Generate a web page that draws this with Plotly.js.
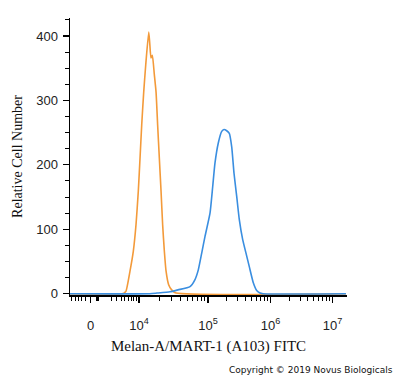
<!DOCTYPE html>
<html>
<head>
<meta charset="utf-8">
<script src="https://cdn.plot.ly/plotly-3.0.1.min.js"></script>
<style>html,body{margin:0;padding:0;background:#fff;}#chart{width:400px;height:378px;}</style>
</head>
<body>
<div id="chart"></div>
<script>
// Fluorescence channel (display scale 0-1024, biexponential) and counts
const isotypeChannel = [0, 192.2, 199.6, 207.0, 221.8, 234.1, 244.0, 252.5, 258.8, 265.1, 272.5, 279.9, 291.0, 294.6, 299.4, 304.4, 311.8, 318.1, 324.0, 330.3, 336.6, 342.5, 348.8, 355.1, 364.7, 375.8, 392.1, 1020];
const isotypeCount   = [0, 0, 1, 4, 35, 66, 107, 159, 210, 262, 313, 355, 406, 390, 366, 370, 340, 313, 262, 210, 159, 107, 66, 35, 14, 6, 1, 0];

const melanChannel = [0, 295.7, 321.6, 369.7, 399.3, 443.6, 462.1, 474.3, 486.9, 499.1, 517.6, 527.5, 536.0, 548.2, 560.8, 569.3, 579.3, 588.9, 597.8, 606.3, 616.3, 625.9, 638.4, 650.6, 662.8, 677.6, 690.2, 702.4, 713.5, 1020];
const melanCount   = [0, 0, 1, 3, 6, 11, 22, 37, 63, 89, 125, 166, 203, 234, 252, 255, 253, 249, 228, 187, 151, 115, 84, 63, 42, 17, 5, 1, 0, 0];

// Axis tick labels and their channel positions
const xTickVals = [76.4, 255.1, 510.2, 741.2, 970.4];
const xTickText = ["0", "10<sup>4</sup>", "10<sup>5</sup>", "10<sup>6</sup>", "10<sup>7</sup>"];
const xLowMinor = [6.3, 18.5, 30.7, 43.3, 55.5, 96.1, 98.0, 99.8, 101.6, 103.5, 154.2, 172.6, 191.1, 203.3, 215.5, 225.5, 234.0, 244.0];
const yTickVals = [0, 100, 200, 300, 400];

// minor log ticks inside each decade
const minor = xLowMinor.slice();
for (let d = 1; d < xTickVals.length - 1; d++) {
  const a = xTickVals[d], b = xTickVals[d + 1];
  for (let k = 2; k <= 9; k++) minor.push(a + Math.log10(k) * (b - a));
}

const traces = [
  {x: isotypeChannel, y: isotypeCount, type: 'scatter', mode: 'lines', name: 'Isotype',
   line: {color: '#F39A3A', width: 1.6, shape: 'spline', smoothing: 0.5}, hoverinfo: 'skip'},
  {x: melanChannel, y: melanCount, type: 'scatter', mode: 'lines', name: 'Melan-A/MART-1',
   line: {color: '#3A8EE0', width: 1.6, shape: 'spline', smoothing: 0.5}, hoverinfo: 'skip'}
];

const layout = {
  width: 400, height: 378,
  margin: {l: 70, r: 53, t: 18, b: 83},
  paper_bgcolor: '#fff', plot_bgcolor: '#fff',
  showlegend: false,
  xaxis: {
    range: [0, 1024], showgrid: false, zeroline: false,
    showline: true, linecolor: '#000', linewidth: 2,
    ticks: 'outside', ticklen: 6, tickwidth: 1.2, tickcolor: '#000',
    tickmode: 'array', tickvals: xTickVals, ticktext: xTickText,
    ticklabelstandoff: 11,
    tickfont: {family: 'Liberation Sans, Arial, sans-serif', size: 13, color: '#222'},
    minor: {tickmode: 'array', tickvals: minor, ticks: 'outside', ticklen: 4, tickwidth: 1, tickcolor: '#000', showgrid: false},
    title: {text: 'Melan-A/MART-1 (A103) FITC', standoff: 9,
            font: {family: 'Liberation Serif, Times New Roman, serif', size: 15, color: '#111'}},
    fixedrange: true
  },
  yaxis: {
    range: [-2, 428], showgrid: false, zeroline: false,
    showline: true, linecolor: '#000', linewidth: 1.5,
    ticks: 'outside', ticklen: 6, tickwidth: 1.2, tickcolor: '#000',
    tickmode: 'array', tickvals: yTickVals,
    ticklabelstandoff: 2,
    tickfont: {family: 'Liberation Sans, Arial, sans-serif', size: 13, color: '#222'},
    minor: {tickmode: 'linear', tick0: 0, dtick: 25, ticks: 'outside', ticklen: 4, tickwidth: 1, tickcolor: '#000', showgrid: false},
    title: {text: 'Relative Cell Number', standoff: 10,
            font: {family: 'Liberation Serif, Times New Roman, serif', size: 14, color: '#111'}},
    fixedrange: true
  },
  annotations: [{
    text: 'Copyright © 2019 Novus Biologicals', xref: 'paper', yref: 'paper',
    x: 1.175, y: -0.272, xanchor: 'right', yanchor: 'middle', showarrow: false,
    font: {family: 'DejaVu Sans, sans-serif', size: 9, color: '#111'}
  }]
};

Plotly.newPlot('chart', traces, layout, {staticPlot: true, displayModeBar: false});
</script>
</body>
</html>
